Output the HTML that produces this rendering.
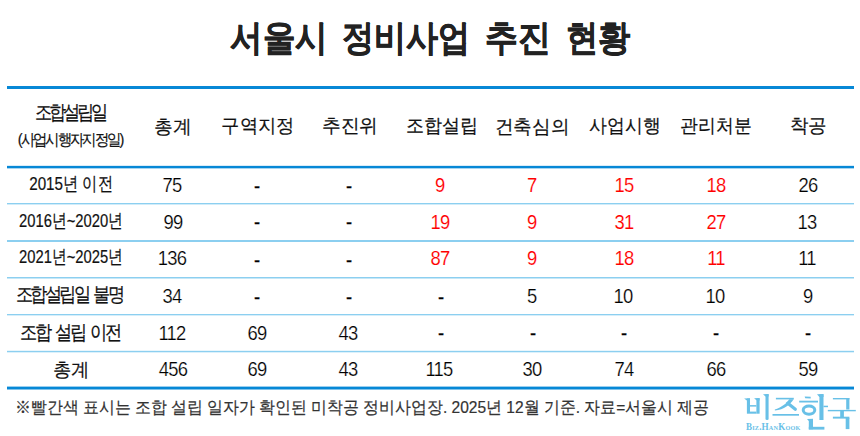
<!DOCTYPE html><html><head><meta charset="utf-8"><style>
html,body{margin:0;padding:0;background:#fff;}
body{width:860px;height:436px;position:relative;overflow:hidden;font-family:"Liberation Sans",sans-serif;color:#111;}
.w{position:absolute;width:0;height:0;}
.s{position:absolute;left:0;top:0;white-space:nowrap;line-height:1;display:inline-block;transform-origin:0 0;}
.ln{position:absolute;left:7px;width:847px;}
</style></head><body>
<svg style="position:absolute;left:0;top:0;" width="860" height="436">
<rect x="7" y="86" width="847" height="3" fill="#0788d6"/>
<rect x="7" y="165.85" width="847" height="2.5" fill="#0788d6"/>
<rect x="7" y="203.00" width="847" height="1.4" fill="#8ccff0"/>
<rect x="7" y="240.00" width="847" height="2.0" fill="#8ccff0"/>
<rect x="7" y="277.00" width="847" height="1.5" fill="#8ccff0"/>
<rect x="7" y="314.00" width="847" height="1.35" fill="#8ccff0"/>
<rect x="7" y="350.80" width="847" height="1.5" fill="#8ccff0"/>
<rect x="7" y="386.6" width="847" height="2.9" fill="#0788d6"/>
</svg>
<div class="w" style="left:278.90px;top:20.30px;"><span id="t0" class="s" style="font-size:36.2px;color:#222;font-weight:bold;-webkit-text-stroke:0.5px #222;transform:translateX(-50%) scaleX(0.9023);transform-origin:50% 0;">서울시</span></div>
<div class="w" style="left:405.70px;top:20.30px;"><span id="t1" class="s" style="font-size:36.2px;color:#222;font-weight:bold;-webkit-text-stroke:0.5px #222;transform:translateX(-50%) scaleX(0.8910);transform-origin:50% 0;">정비사업</span></div>
<div class="w" style="left:517.60px;top:20.30px;"><span id="t2" class="s" style="font-size:36.2px;color:#222;font-weight:bold;-webkit-text-stroke:0.5px #222;transform:translateX(-50%) scaleX(0.9125);transform-origin:50% 0;">추진</span></div>
<div class="w" style="left:598.10px;top:20.30px;"><span id="t3" class="s" style="font-size:36.2px;color:#222;font-weight:bold;-webkit-text-stroke:0.5px #222;transform:translateX(-50%) scaleX(0.8945);transform-origin:50% 0;">현황</span></div>
<div class="w" style="left:70.10px;top:101.70px;"><span id="h0a" class="s" style="font-size:20.3px;color:#111;-webkit-text-stroke:0.2px #111;letter-spacing:-3.587209302325628px;transform:translateX(-50%) scaleX(0.8600);transform-origin:50% 0;">조합설립일</span></div>
<div class="w" style="left:69.50px;top:130.90px;"><span id="h0b" class="s" style="font-size:16.2px;color:#111;-webkit-text-stroke:0.2px #111;letter-spacing:-2.253086419753086px;transform:translateX(-50%) scaleX(0.9000);transform-origin:50% 0;">(사업시행자지정일)</span></div>
<div class="w" style="left:172.95px;top:117.00px;"><span id="h1" class="s" style="font-size:19px;color:#111;-webkit-text-stroke:0.2px #111;transform:translateX(-50%) scaleX(0.9861);transform-origin:50% 0;">총계</span></div>
<div class="w" style="left:257.55px;top:116.00px;"><span id="h2" class="s" style="font-size:19px;color:#111;-webkit-text-stroke:0.2px #111;transform:translateX(-50%) scaleX(0.9615);transform-origin:50% 0;">구역지정</span></div>
<div class="w" style="left:349.75px;top:116.00px;"><span id="h3" class="s" style="font-size:19px;color:#111;-webkit-text-stroke:0.2px #111;transform:translateX(-50%) scaleX(0.9847);transform-origin:50% 0;">추진위</span></div>
<div class="w" style="left:442.45px;top:116.00px;"><span id="h4" class="s" style="font-size:19px;color:#111;-webkit-text-stroke:0.2px #111;transform:translateX(-50%) scaleX(0.9495);transform-origin:50% 0;">조합설립</span></div>
<div class="w" style="left:532.30px;top:117.00px;"><span id="h5" class="s" style="font-size:19px;color:#111;-webkit-text-stroke:0.2px #111;transform:translateX(-50%) scaleX(0.9809);transform-origin:50% 0;">건축심의</span></div>
<div class="w" style="left:624.75px;top:116.00px;"><span id="h6" class="s" style="font-size:19px;color:#111;-webkit-text-stroke:0.2px #111;transform:translateX(-50%) scaleX(0.9421);transform-origin:50% 0;">사업시행</span></div>
<div class="w" style="left:716.05px;top:116.00px;"><span id="h7" class="s" style="font-size:19px;color:#111;-webkit-text-stroke:0.2px #111;transform:translateX(-50%) scaleX(0.9395);transform-origin:50% 0;">관리처분</span></div>
<div class="w" style="left:807.55px;top:116.00px;"><span id="h8" class="s" style="font-size:19px;color:#111;-webkit-text-stroke:0.2px #111;transform:translateX(-50%) scaleX(0.9721);transform-origin:50% 0;">착공</span></div>
<div class="w" style="left:71.40px;top:174.10px;"><span id="r0c0" class="s" style="font-size:19px;color:#111;-webkit-text-stroke:0.2px #111;transform:translateX(-50%) scaleX(0.8002);transform-origin:50% 0;">2015년 이전</span></div>
<div class="w" style="left:172.30px;top:175.00px;"><span id="r0c1" class="s" style="font-size:20px;color:#000;-webkit-text-stroke:0.22px #fff;letter-spacing:-0.8px;transform:translateX(-50%) scaleX(0.9200);transform-origin:50% 0;">75</span></div>
<div class="w" style="left:257.30px;top:176.20px;"><span id="r0c2" class="s" style="font-size:20px;color:#000;-webkit-text-stroke:0.25px #000;transform:translateX(-50%) scaleX(0.9200);transform-origin:50% 0;">-</span></div>
<div class="w" style="left:349.10px;top:176.20px;"><span id="r0c3" class="s" style="font-size:20px;color:#000;-webkit-text-stroke:0.25px #000;transform:translateX(-50%) scaleX(0.9200);transform-origin:50% 0;">-</span></div>
<div class="w" style="left:440.40px;top:175.00px;"><span id="r0c4" class="s" style="font-size:20px;color:#ff0000;-webkit-text-stroke:0.15px #fff;transform:translateX(-50%) scaleX(0.9200);transform-origin:50% 0;">9</span></div>
<div class="w" style="left:532.20px;top:175.00px;"><span id="r0c5" class="s" style="font-size:20px;color:#ff0000;-webkit-text-stroke:0.15px #fff;transform:translateX(-50%) scaleX(0.9200);transform-origin:50% 0;">7</span></div>
<div class="w" style="left:623.90px;top:175.00px;"><span id="r0c6" class="s" style="font-size:20px;color:#ff0000;-webkit-text-stroke:0.15px #fff;letter-spacing:-0.8px;transform:translateX(-50%) scaleX(0.9200);transform-origin:50% 0;">15</span></div>
<div class="w" style="left:715.90px;top:175.00px;"><span id="r0c7" class="s" style="font-size:20px;color:#ff0000;-webkit-text-stroke:0.15px #fff;letter-spacing:-0.8px;transform:translateX(-50%) scaleX(0.9200);transform-origin:50% 0;">18</span></div>
<div class="w" style="left:807.70px;top:175.00px;"><span id="r0c8" class="s" style="font-size:20px;color:#000;-webkit-text-stroke:0.22px #fff;letter-spacing:-0.8px;transform:translateX(-50%) scaleX(0.9200);transform-origin:50% 0;">26</span></div>
<div class="w" style="left:70.90px;top:211.30px;"><span id="r1c0" class="s" style="font-size:19px;color:#111;-webkit-text-stroke:0.2px #111;transform:translateX(-50%) scaleX(0.7775);transform-origin:50% 0;">2016년~2020년</span></div>
<div class="w" style="left:172.80px;top:212.20px;"><span id="r1c1" class="s" style="font-size:20px;color:#000;-webkit-text-stroke:0.22px #fff;letter-spacing:-0.8px;transform:translateX(-50%) scaleX(0.9200);transform-origin:50% 0;">99</span></div>
<div class="w" style="left:257.30px;top:212.40px;"><span id="r1c2" class="s" style="font-size:20px;color:#000;-webkit-text-stroke:0.25px #000;transform:translateX(-50%) scaleX(0.9200);transform-origin:50% 0;">-</span></div>
<div class="w" style="left:349.10px;top:212.40px;"><span id="r1c3" class="s" style="font-size:20px;color:#000;-webkit-text-stroke:0.25px #000;transform:translateX(-50%) scaleX(0.9200);transform-origin:50% 0;">-</span></div>
<div class="w" style="left:439.90px;top:212.20px;"><span id="r1c4" class="s" style="font-size:20px;color:#ff0000;-webkit-text-stroke:0.15px #fff;letter-spacing:-0.8px;transform:translateX(-50%) scaleX(0.9200);transform-origin:50% 0;">19</span></div>
<div class="w" style="left:532.20px;top:212.20px;"><span id="r1c5" class="s" style="font-size:20px;color:#ff0000;-webkit-text-stroke:0.15px #fff;transform:translateX(-50%) scaleX(0.9200);transform-origin:50% 0;">9</span></div>
<div class="w" style="left:624.40px;top:212.20px;"><span id="r1c6" class="s" style="font-size:20px;color:#ff0000;-webkit-text-stroke:0.15px #fff;letter-spacing:-0.8px;transform:translateX(-50%) scaleX(0.9200);transform-origin:50% 0;">31</span></div>
<div class="w" style="left:716.40px;top:212.20px;"><span id="r1c7" class="s" style="font-size:20px;color:#ff0000;-webkit-text-stroke:0.15px #fff;letter-spacing:-0.8px;transform:translateX(-50%) scaleX(0.9200);transform-origin:50% 0;">27</span></div>
<div class="w" style="left:807.20px;top:212.20px;"><span id="r1c8" class="s" style="font-size:20px;color:#000;-webkit-text-stroke:0.22px #fff;letter-spacing:-0.8px;transform:translateX(-50%) scaleX(0.9200);transform-origin:50% 0;">13</span></div>
<div class="w" style="left:70.90px;top:247.40px;"><span id="r2c0" class="s" style="font-size:19px;color:#111;-webkit-text-stroke:0.2px #111;transform:translateX(-50%) scaleX(0.7775);transform-origin:50% 0;">2021년~2025년</span></div>
<div class="w" style="left:172.30px;top:248.40px;"><span id="r2c1" class="s" style="font-size:20px;color:#000;-webkit-text-stroke:0.22px #fff;letter-spacing:-0.8px;transform:translateX(-50%) scaleX(0.9200);transform-origin:50% 0;">136</span></div>
<div class="w" style="left:257.30px;top:249.60px;"><span id="r2c2" class="s" style="font-size:20px;color:#000;-webkit-text-stroke:0.25px #000;transform:translateX(-50%) scaleX(0.9200);transform-origin:50% 0;">-</span></div>
<div class="w" style="left:349.10px;top:249.60px;"><span id="r2c3" class="s" style="font-size:20px;color:#000;-webkit-text-stroke:0.25px #000;transform:translateX(-50%) scaleX(0.9200);transform-origin:50% 0;">-</span></div>
<div class="w" style="left:440.40px;top:248.40px;"><span id="r2c4" class="s" style="font-size:20px;color:#ff0000;-webkit-text-stroke:0.15px #fff;letter-spacing:-0.8px;transform:translateX(-50%) scaleX(0.9200);transform-origin:50% 0;">87</span></div>
<div class="w" style="left:532.20px;top:248.40px;"><span id="r2c5" class="s" style="font-size:20px;color:#ff0000;-webkit-text-stroke:0.15px #fff;transform:translateX(-50%) scaleX(0.9200);transform-origin:50% 0;">9</span></div>
<div class="w" style="left:623.90px;top:248.40px;"><span id="r2c6" class="s" style="font-size:20px;color:#ff0000;-webkit-text-stroke:0.15px #fff;letter-spacing:-0.8px;transform:translateX(-50%) scaleX(0.9200);transform-origin:50% 0;">18</span></div>
<div class="w" style="left:715.90px;top:248.40px;"><span id="r2c7" class="s" style="font-size:20px;color:#ff0000;-webkit-text-stroke:0.15px #fff;letter-spacing:-0.8px;transform:translateX(-50%) scaleX(0.9200);transform-origin:50% 0;">11</span></div>
<div class="w" style="left:807.20px;top:248.40px;"><span id="r2c8" class="s" style="font-size:20px;color:#000;-webkit-text-stroke:0.22px #fff;letter-spacing:-0.8px;transform:translateX(-50%) scaleX(0.9200);transform-origin:50% 0;">11</span></div>
<div class="w" style="left:69.05px;top:285.00px;"><span id="r3c0" class="s" style="font-size:19.6px;color:#111;-webkit-text-stroke:0.2px #111;letter-spacing:-3.076411960132887px;word-spacing:3px;transform:translateX(-50%) scaleX(0.8600);transform-origin:50% 0;">조합설립일 불명</span></div>
<div class="w" style="left:172.30px;top:285.60px;"><span id="r3c1" class="s" style="font-size:20px;color:#000;-webkit-text-stroke:0.22px #fff;letter-spacing:-0.8px;transform:translateX(-50%) scaleX(0.9200);transform-origin:50% 0;">34</span></div>
<div class="w" style="left:257.30px;top:286.80px;"><span id="r3c2" class="s" style="font-size:20px;color:#000;-webkit-text-stroke:0.25px #000;transform:translateX(-50%) scaleX(0.9200);transform-origin:50% 0;">-</span></div>
<div class="w" style="left:349.10px;top:286.80px;"><span id="r3c3" class="s" style="font-size:20px;color:#000;-webkit-text-stroke:0.25px #000;transform:translateX(-50%) scaleX(0.9200);transform-origin:50% 0;">-</span></div>
<div class="w" style="left:440.90px;top:286.80px;"><span id="r3c4" class="s" style="font-size:20px;color:#000;-webkit-text-stroke:0.25px #000;transform:translateX(-50%) scaleX(0.9200);transform-origin:50% 0;">-</span></div>
<div class="w" style="left:531.70px;top:285.60px;"><span id="r3c5" class="s" style="font-size:20px;color:#000;-webkit-text-stroke:0.22px #fff;transform:translateX(-50%) scaleX(0.9200);transform-origin:50% 0;">5</span></div>
<div class="w" style="left:623.40px;top:285.60px;"><span id="r3c6" class="s" style="font-size:20px;color:#000;-webkit-text-stroke:0.22px #fff;letter-spacing:-0.8px;transform:translateX(-50%) scaleX(0.9200);transform-origin:50% 0;">10</span></div>
<div class="w" style="left:715.40px;top:285.60px;"><span id="r3c7" class="s" style="font-size:20px;color:#000;-webkit-text-stroke:0.22px #fff;letter-spacing:-0.8px;transform:translateX(-50%) scaleX(0.9200);transform-origin:50% 0;">10</span></div>
<div class="w" style="left:808.20px;top:285.60px;"><span id="r3c8" class="s" style="font-size:20px;color:#000;-webkit-text-stroke:0.22px #fff;transform:translateX(-50%) scaleX(0.9200);transform-origin:50% 0;">9</span></div>
<div class="w" style="left:70.30px;top:322.60px;"><span id="r4c0" class="s" style="font-size:19.6px;color:#111;-webkit-text-stroke:0.2px #111;letter-spacing:-2.495016611295679px;word-spacing:3px;transform:translateX(-50%) scaleX(0.8600);transform-origin:50% 0;">조합 설립 이전</span></div>
<div class="w" style="left:172.30px;top:322.80px;"><span id="r4c1" class="s" style="font-size:20px;color:#000;-webkit-text-stroke:0.22px #fff;letter-spacing:-0.8px;transform:translateX(-50%) scaleX(0.9200);transform-origin:50% 0;">112</span></div>
<div class="w" style="left:256.80px;top:322.80px;"><span id="r4c2" class="s" style="font-size:20px;color:#000;-webkit-text-stroke:0.22px #fff;letter-spacing:-0.8px;transform:translateX(-50%) scaleX(0.9200);transform-origin:50% 0;">69</span></div>
<div class="w" style="left:348.10px;top:322.80px;"><span id="r4c3" class="s" style="font-size:20px;color:#000;-webkit-text-stroke:0.22px #fff;letter-spacing:-0.8px;transform:translateX(-50%) scaleX(0.9200);transform-origin:50% 0;">43</span></div>
<div class="w" style="left:440.90px;top:323.00px;"><span id="r4c4" class="s" style="font-size:20px;color:#000;-webkit-text-stroke:0.25px #000;transform:translateX(-50%) scaleX(0.9200);transform-origin:50% 0;">-</span></div>
<div class="w" style="left:532.70px;top:323.00px;"><span id="r4c5" class="s" style="font-size:20px;color:#000;-webkit-text-stroke:0.25px #000;transform:translateX(-50%) scaleX(0.9200);transform-origin:50% 0;">-</span></div>
<div class="w" style="left:623.90px;top:323.00px;"><span id="r4c6" class="s" style="font-size:20px;color:#000;-webkit-text-stroke:0.25px #000;transform:translateX(-50%) scaleX(0.9200);transform-origin:50% 0;">-</span></div>
<div class="w" style="left:715.90px;top:323.00px;"><span id="r4c7" class="s" style="font-size:20px;color:#000;-webkit-text-stroke:0.25px #000;transform:translateX(-50%) scaleX(0.9200);transform-origin:50% 0;">-</span></div>
<div class="w" style="left:807.70px;top:323.00px;"><span id="r4c8" class="s" style="font-size:20px;color:#000;-webkit-text-stroke:0.25px #000;transform:translateX(-50%) scaleX(0.9200);transform-origin:50% 0;">-</span></div>
<div class="w" style="left:71.30px;top:359.70px;"><span id="r5c0" class="s" style="font-size:19px;color:#111;-webkit-text-stroke:0.2px #111;transform:translateX(-50%) scaleX(0.9651);transform-origin:50% 0;">총계</span></div>
<div class="w" style="left:172.80px;top:359.00px;"><span id="r5c1" class="s" style="font-size:20px;color:#000;-webkit-text-stroke:0.22px #fff;letter-spacing:-0.8px;transform:translateX(-50%) scaleX(0.9200);transform-origin:50% 0;">456</span></div>
<div class="w" style="left:256.80px;top:359.00px;"><span id="r5c2" class="s" style="font-size:20px;color:#000;-webkit-text-stroke:0.22px #fff;letter-spacing:-0.8px;transform:translateX(-50%) scaleX(0.9200);transform-origin:50% 0;">69</span></div>
<div class="w" style="left:348.10px;top:359.00px;"><span id="r5c3" class="s" style="font-size:20px;color:#000;-webkit-text-stroke:0.22px #fff;letter-spacing:-0.8px;transform:translateX(-50%) scaleX(0.9200);transform-origin:50% 0;">43</span></div>
<div class="w" style="left:439.40px;top:359.00px;"><span id="r5c4" class="s" style="font-size:20px;color:#000;-webkit-text-stroke:0.22px #fff;letter-spacing:-0.8px;transform:translateX(-50%) scaleX(0.9200);transform-origin:50% 0;">115</span></div>
<div class="w" style="left:531.70px;top:359.00px;"><span id="r5c5" class="s" style="font-size:20px;color:#000;-webkit-text-stroke:0.22px #fff;letter-spacing:-0.8px;transform:translateX(-50%) scaleX(0.9200);transform-origin:50% 0;">30</span></div>
<div class="w" style="left:623.90px;top:359.00px;"><span id="r5c6" class="s" style="font-size:20px;color:#000;-webkit-text-stroke:0.22px #fff;letter-spacing:-0.8px;transform:translateX(-50%) scaleX(0.9200);transform-origin:50% 0;">74</span></div>
<div class="w" style="left:715.90px;top:359.00px;"><span id="r5c7" class="s" style="font-size:20px;color:#000;-webkit-text-stroke:0.22px #fff;letter-spacing:-0.8px;transform:translateX(-50%) scaleX(0.9200);transform-origin:50% 0;">66</span></div>
<div class="w" style="left:808.20px;top:359.00px;"><span id="r5c8" class="s" style="font-size:20px;color:#000;-webkit-text-stroke:0.22px #fff;letter-spacing:-0.8px;transform:translateX(-50%) scaleX(0.9200);transform-origin:50% 0;">59</span></div>
<div class="w" style="left:362.20px;top:400.10px;"><span id="fn" class="s" style="font-size:16.6px;color:#333;-webkit-text-stroke:0.2px #333;transform:translateX(-50%) scaleX(0.9362);transform-origin:50% 0;">※빨간색 표시는 조합 설립 일자가 확인된 미착공 정비사업장. 2025년 12월 기준. 자료=서울시 제공</span></div>
<svg style="position:absolute;left:740px;top:390px;" width="120" height="46" viewBox="0 0 120 46">
<g fill="#68c0e7">
<rect x="6.9" y="8.5" width="3.1" height="15.2"/>
<polygon points="4.1,8.4 10,8.2 10,10.6 6.9,10.4"/>
<rect x="16.4" y="8.3" width="3.2" height="15.4"/>
<polygon points="14.1,8.3 19.6,8.1 19.6,10.4 16.4,10.3"/>
<rect x="10" y="15.1" width="6.4" height="1.5"/>
<rect x="10" y="21.6" width="6.4" height="2.1"/>
<path d="M25.5,4.2 H28.6 V29 Q28.6,30 27.05,30 Q25.5,30 25.5,29 Z"/>
<polygon points="23,4.2 28.6,3.9 28.6,6.6 25.5,6.6"/>
<rect x="35.9" y="7.8" width="17.9" height="1.6"/>
<path d="M49.2,9.2 L53.6,9.2 C50.5,14.5 44,19.5 34.9,20.6 L34.8,19.4 C41,17.6 46.5,13.5 49.2,9.2 Z"/>
<path d="M47.8,13.2 L55.3,19.2" stroke="#68c0e7" stroke-width="3.2" stroke-linecap="round" fill="none"/>
<rect x="32.5" y="24" width="26.5" height="1.7"/>
<polygon points="64.7,6.4 70.7,6.7 70.7,8.5 65.2,8.3"/>
<rect x="59.2" y="10.7" width="18.8" height="1.8"/>
<ellipse cx="69" cy="20.1" rx="5.8" ry="4.1" fill="none" stroke="#68c0e7" stroke-width="3"/>
<rect x="79.4" y="4.3" width="4.1" height="25.7"/>
<polygon points="77,4.3 83.5,4.1 83.5,7 79.4,7"/>
<rect x="83.5" y="15.7" width="4.5" height="1.5"/>
<rect x="68.8" y="29" width="4.2" height="10.3"/>
<polygon points="67,29 73,28.8 73,31 68.8,31"/>
<rect x="68.8" y="36.8" width="15.6" height="2.8"/>
<rect x="92.9" y="8" width="16.5" height="1.4"/>
<rect x="106.2" y="8" width="3.2" height="11.5"/>
<rect x="87.8" y="19.9" width="28" height="1.4"/>
<rect x="100.2" y="21" width="3.7" height="6"/>
<rect x="92.9" y="26.7" width="16.5" height="1.9"/>
<rect x="105.7" y="28" width="3.7" height="11.1"/>
</g>
</svg>
<div style="position:absolute;left:746px;top:421.5px;width:0;height:0;"><span id="logotxt" style="position:absolute;left:0;top:0;white-space:nowrap;line-height:1;font-family:'Liberation Serif',serif;font-weight:bold;font-size:10.3px;font-variant:small-caps;color:#68c0e7;transform-origin:0 0;transform:scaleX(0.885);letter-spacing:0.2px;">Biz.HanKook</span></div>

</body></html>
